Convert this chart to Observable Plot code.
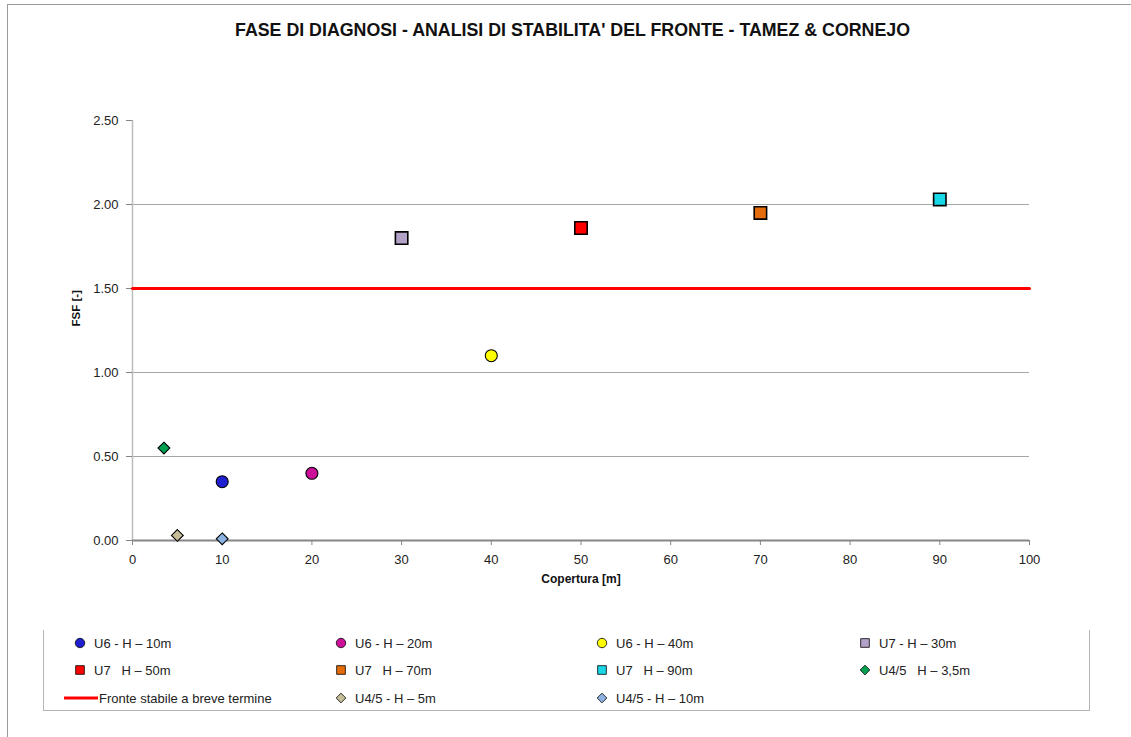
<!DOCTYPE html>
<html>
<head>
<meta charset="utf-8">
<script src="https://cdn.jsdelivr.net/npm/d3@7"></script>
<script src="https://cdn.jsdelivr.net/npm/@observablehq/plot@0.6"></script>
<style>
  html, body { margin: 0; padding: 0; background: #fff; }
  #chart { position: relative; width: 1131px; height: 737px; overflow: hidden; font-family: "Liberation Sans", Arial, sans-serif; }
  #frame { position: absolute; left: 7px; top: 4px; width: 1200px; height: 800px; border-left: 1.5px solid #9a9a9a; border-top: 1.5px solid #9a9a9a; }
  #title { position: absolute; left: 0; width: 1145px; top: 20px; text-align: center; font-weight: bold; font-size: 17.8px; color: #111; }
  #plot { position: absolute; left: 0; top: 0; }
  #legend { position: absolute; left: 43px; top: 630px; width: 1045px; height: 80px; border-left: 1.5px solid #b4b4b4; border-right: 1.5px solid #b4b4b4; border-bottom: 1.5px solid #b4b4b4; }
  .item { position: absolute; height: 20px; display: flex; align-items: center; font-size: 13px; color: #222; white-space: pre; }
  .item svg { margin-right: 8px; overflow: visible; }
</style>
</head>
<body>
<div id="chart">
  <div id="frame"></div>
  <div id="plot"></div>
  <div id="title">FASE DI DIAGNOSI - ANALISI DI STABILITA' DEL FRONTE - TAMEZ &amp; CORNEJO</div>
  <div id="legend"></div>
</div>
<script>
// ---- Data ----
const seriesNames = [
  "U6 - H – 10m", "U6 - H – 20m", "U6 - H – 40m", "U7 - H – 30m",
  "U7   H – 50m", "U7   H – 70m", "U7   H – 90m", "U4/5   H – 3,5m",
  "U4/5 - H – 5m", "U4/5 - H – 10m"
];
const coverValues = [10, 20, 40, 30, 50, 70, 90, 3.5, 5, 10];
const fsfValues   = [0.35, 0.40, 1.10, 1.80, 1.86, 1.95, 2.03, 0.55, 0.03, 0.01];
const seriesColors = ["#1f1fd0", "#cc0f99", "#ffff00", "#b3a2c7", "#ff0000", "#e46c0a", "#18d8e8", "#00a050", "#c4bd97", "#8db3e2"];
const seriesSymbols = ["circle", "circle", "circle", "square", "square", "square", "square", "diamond2", "diamond2", "diamond2"];
const thresholdName = "Fronte stabile a breve termine";
const thresholdValue = 1.5;
const xTicks = [0, 10, 20, 30, 40, 50, 60, 70, 80, 90, 100];
const yTicks = [0, 0.5, 1.0, 1.5, 2.0, 2.5];
const gridValues = [0.5, 1.0, 1.5, 2.0];

const points = seriesNames.map((name, i) => ({
  name, x: coverValues[i], y: fsfValues[i], color: seriesColors[i], symbol: seriesSymbols[i]
}));
const thresholdLine = [{x: 0, y: thresholdValue}, {x: 100, y: thresholdValue}];
const symR = {circle: 6, square: 7, diamond2: 5.3};

const plot = Plot.plot({
  width: 1131,
  height: 600,
  marginLeft: 132,
  marginRight: 102,
  marginTop: 120,
  marginBottom: 60,
  style: {fontFamily: "Liberation Sans, Arial, sans-serif", fontSize: "13px", color: "#333", background: "transparent"},
  x: {domain: [0, 100], ticks: xTicks, tickSize: 5, tickPadding: 9, label: null},
  y: {domain: [0, 2.5], ticks: yTicks, tickSize: 6, tickPadding: 8, tickFormat: d3.format(".2f"), label: null},
  marks: [
    Plot.ruleY(gridValues, {stroke: "#a6a6a6", strokeWidth: 1}),
    Plot.ruleX([0], {stroke: "#bdbdbd", strokeWidth: 1.5}),
    Plot.ruleY([0], {stroke: "#868686", strokeWidth: 2}),
    Plot.axisX({ticks: xTicks, tickSize: 5, tickPadding: 9, stroke: "#868686", fill: "#222", label: null}),
    Plot.axisY({ticks: yTicks, tickSize: 6, tickPadding: 8, tickFormat: d3.format(".2f"), stroke: "#868686", fill: "#222", label: null}),
    Plot.line(thresholdLine, {x: "x", y: "y", stroke: "#ff0000", strokeWidth: 3}),
    ...["circle", "square", "diamond2"].map(s =>
      Plot.dot(points.filter(p => p.symbol === s), {
        x: "x", y: "y", symbol: () => s, r: symR[s], fill: "color", stroke: "#000", strokeWidth: s === "square" ? 1.6 : 1.1
      })
    ),
    Plot.text(["Copertura [m]"], {frameAnchor: "bottom", dy: 42, fontWeight: "bold", fontSize: 12, fill: "#111"}),
    Plot.text(["FSF [-]"], {frameAnchor: "left", dx: -56, dy: -4, rotate: -90, fontWeight: "bold", fontSize: 11.5, fill: "#111"})
  ]
});
document.getElementById("plot").appendChild(plot);

// ---- Legend ----
const legend = document.getElementById("legend");
const colX = [36, 297, 558, 821];
const rowY = [3, 30, 58];
const legendOrder = [
  {type: "pt", i: 0}, {type: "pt", i: 1}, {type: "pt", i: 2}, {type: "pt", i: 3},
  {type: "pt", i: 4}, {type: "pt", i: 5}, {type: "pt", i: 6}, {type: "pt", i: 7},
  {type: "line"}, {type: "pt", i: 8}, {type: "pt", i: 9}
];
const legSize = {circle: 70, square: 75, diamond2: 60};
const symMap = {circle: d3.symbolCircle, square: d3.symbolSquare, diamond2: d3.symbolDiamond2};
legendOrder.forEach((it, k) => {
  const col = k % 4, row = Math.floor(k / 4);
  const div = document.createElement("div");
  div.className = "item";
  div.style.top = rowY[row] + "px";
  const ns = "http://www.w3.org/2000/svg";
  const svg = document.createElementNS(ns, "svg");
  if (it.type === "line") {
    div.style.left = (colX[col] - 16) + "px";
    svg.setAttribute("width", 34); svg.setAttribute("height", 10);
    svg.style.marginRight = "1px";
    const l = document.createElementNS(ns, "line");
    l.setAttribute("x1", 0); l.setAttribute("x2", 34); l.setAttribute("y1", 5); l.setAttribute("y2", 5);
    l.setAttribute("stroke", "#ff0000"); l.setAttribute("stroke-width", 3);
    svg.appendChild(l);
    div.appendChild(svg);
    div.appendChild(document.createTextNode(thresholdName));
  } else {
    const p = points[it.i];
    div.style.left = (colX[col] - 6) + "px";
    svg.setAttribute("width", 12); svg.setAttribute("height", 12);
    const path = document.createElementNS(ns, "path");
    path.setAttribute("d", d3.symbol(symMap[p.symbol], legSize[p.symbol])());
    path.setAttribute("transform", "translate(6,6)");
    path.setAttribute("fill", p.color);
    path.setAttribute("stroke", "#000");
    path.setAttribute("stroke-width", 0.8);
    svg.appendChild(path);
    div.appendChild(svg);
    div.appendChild(document.createTextNode(p.name));
  }
  legend.appendChild(div);
});
</script>
</body>
</html>
